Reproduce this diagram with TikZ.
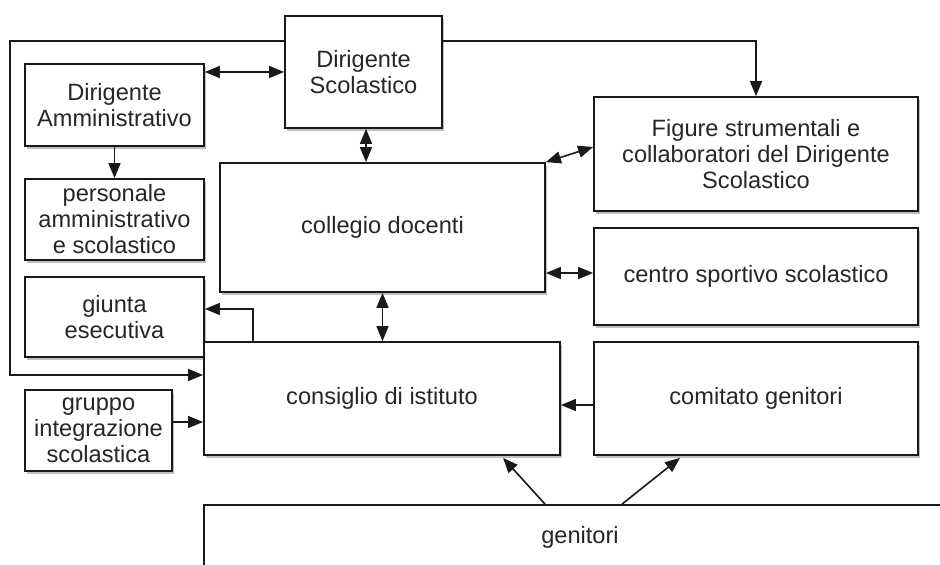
\documentclass[tikz,border=0pt]{standalone}
\usepackage{fontspec}
\setmainfont{Liberation Sans}
\usetikzlibrary{arrows.meta,shadows,calc}
\begin{document}
\begin{tikzpicture}[x=0.5pt,y=-0.5pt,
  box/.style={draw=black!90, line width=0.9pt, fill=white, align=center,
    text=black!85, font=\fontsize{11.8}{13}\selectfont, inner sep=0pt,
    drop shadow={shadow xshift=1.2pt, shadow yshift=-1.5pt, opacity=0.25, fill=black}},
  conn/.style={line width=0.8pt, draw=black!90},
  tip/.style={-{Triangle[length=7.5pt,width=6pt]}},
  tips/.style={{Triangle[length=7.5pt,width=6pt]}-{Triangle[length=7.5pt,width=6pt]}}]
\useasboundingbox (0,0) rectangle (940,565);
\begin{scope}
\clip (0,0) rectangle (940,565);
\node[box, drop shadow={opacity=0}, minimum width=376pt, minimum height=32pt] (gen) at (580,537) {genitori};
\end{scope}
\node[box, minimum width=78.5pt, minimum height=56pt] (dirS) at (363.5,72) {Dirigente\\Scolastico};
\node[box, minimum width=89.5pt, minimum height=41pt] (dirA) at (114.5,105) {Dirigente\\Amministrativo};
\node[box, minimum width=89.5pt, minimum height=40.5pt] (pers) at (114.5,219.5) {personale\\amministrativo\\e scolastico};
\node[box, minimum width=162.5pt, minimum height=64.5pt] (coll) at (382.5,227.5) {collegio docenti};
\node[box, minimum width=162pt, minimum height=57pt] (fig) at (756,154) {Figure strumentali e\\collaboratori del Dirigente\\Scolastico};
\node[box, minimum width=162pt, minimum height=48.5pt] (centro) at (756,276.5) {centro sportivo scolastico};
\node[box, minimum width=89.5pt, minimum height=40pt] (giunta) at (114.5,317) {giunta\\esecutiva};
\node[box, minimum width=178pt, minimum height=56.5pt] (cons) at (382,398.5) {consiglio di istituto};
\node[box, minimum width=162pt, minimum height=56.5pt] (com) at (756,398.5) {comitato genitori};
\node[box, minimum width=73.5pt, minimum height=40.5pt] (grp) at (98.5,430.5) {gruppo\\integrazione\\scolastica};
% helper coordinates
\coordinate (y41) at (0,41);
\coordinate (y72) at (0,72);
\coordinate (lt) at (10,41);
\coordinate (lb) at (10,375);
\coordinate (fy) at (0,147);
\coordinate (cy) at (0,273);
\coordinate (gj) at (253,309);
\coordinate (gy) at (0,422);
\coordinate (ky) at (0,405);
\coordinate (g1) at (545,0);
\coordinate (c1) at (503,0);
\coordinate (g2) at (622,0);
\coordinate (c2) at (680,0);
% connectors
\draw[conn,tip] (dirS.west |- y41) -- (lt) -- (lb) -- (cons.west |- lb);
\draw[conn,tip] (dirS.east |- y41) -| (fig.north);
\draw[conn,tips] (dirA.east |- y72) -- (dirS.west |- y72);
\draw[conn,tip] (dirA.south) -- (pers.north);
\draw[conn,tips] (dirS.south -| 366,0) -- (coll.north -| 366,0);
\draw[conn,tips] (coll.north east) -- (fig.west |- fy);
\draw[conn,tips] (coll.east |- cy) -- (centro.west |- cy);
\draw[conn,tips] (coll.south) -- (coll.south |- cons.north);
\draw[conn,tip] (gj |- cons.north) -- (gj) -- (giunta.east |- gj);
\draw[conn,tip] (grp.east |- gy) -- (cons.west |- gy);
\draw[conn,tip] (com.west |- ky) -- (cons.east |- ky);
\draw[conn,tip] (gen.north -| g1) -- ($(cons.south -| c1)+(0,2)$);
\draw[conn,tip] (gen.north -| g2) -- ($(com.south -| c2)+(0,2)$);
\end{tikzpicture}
\end{document}
